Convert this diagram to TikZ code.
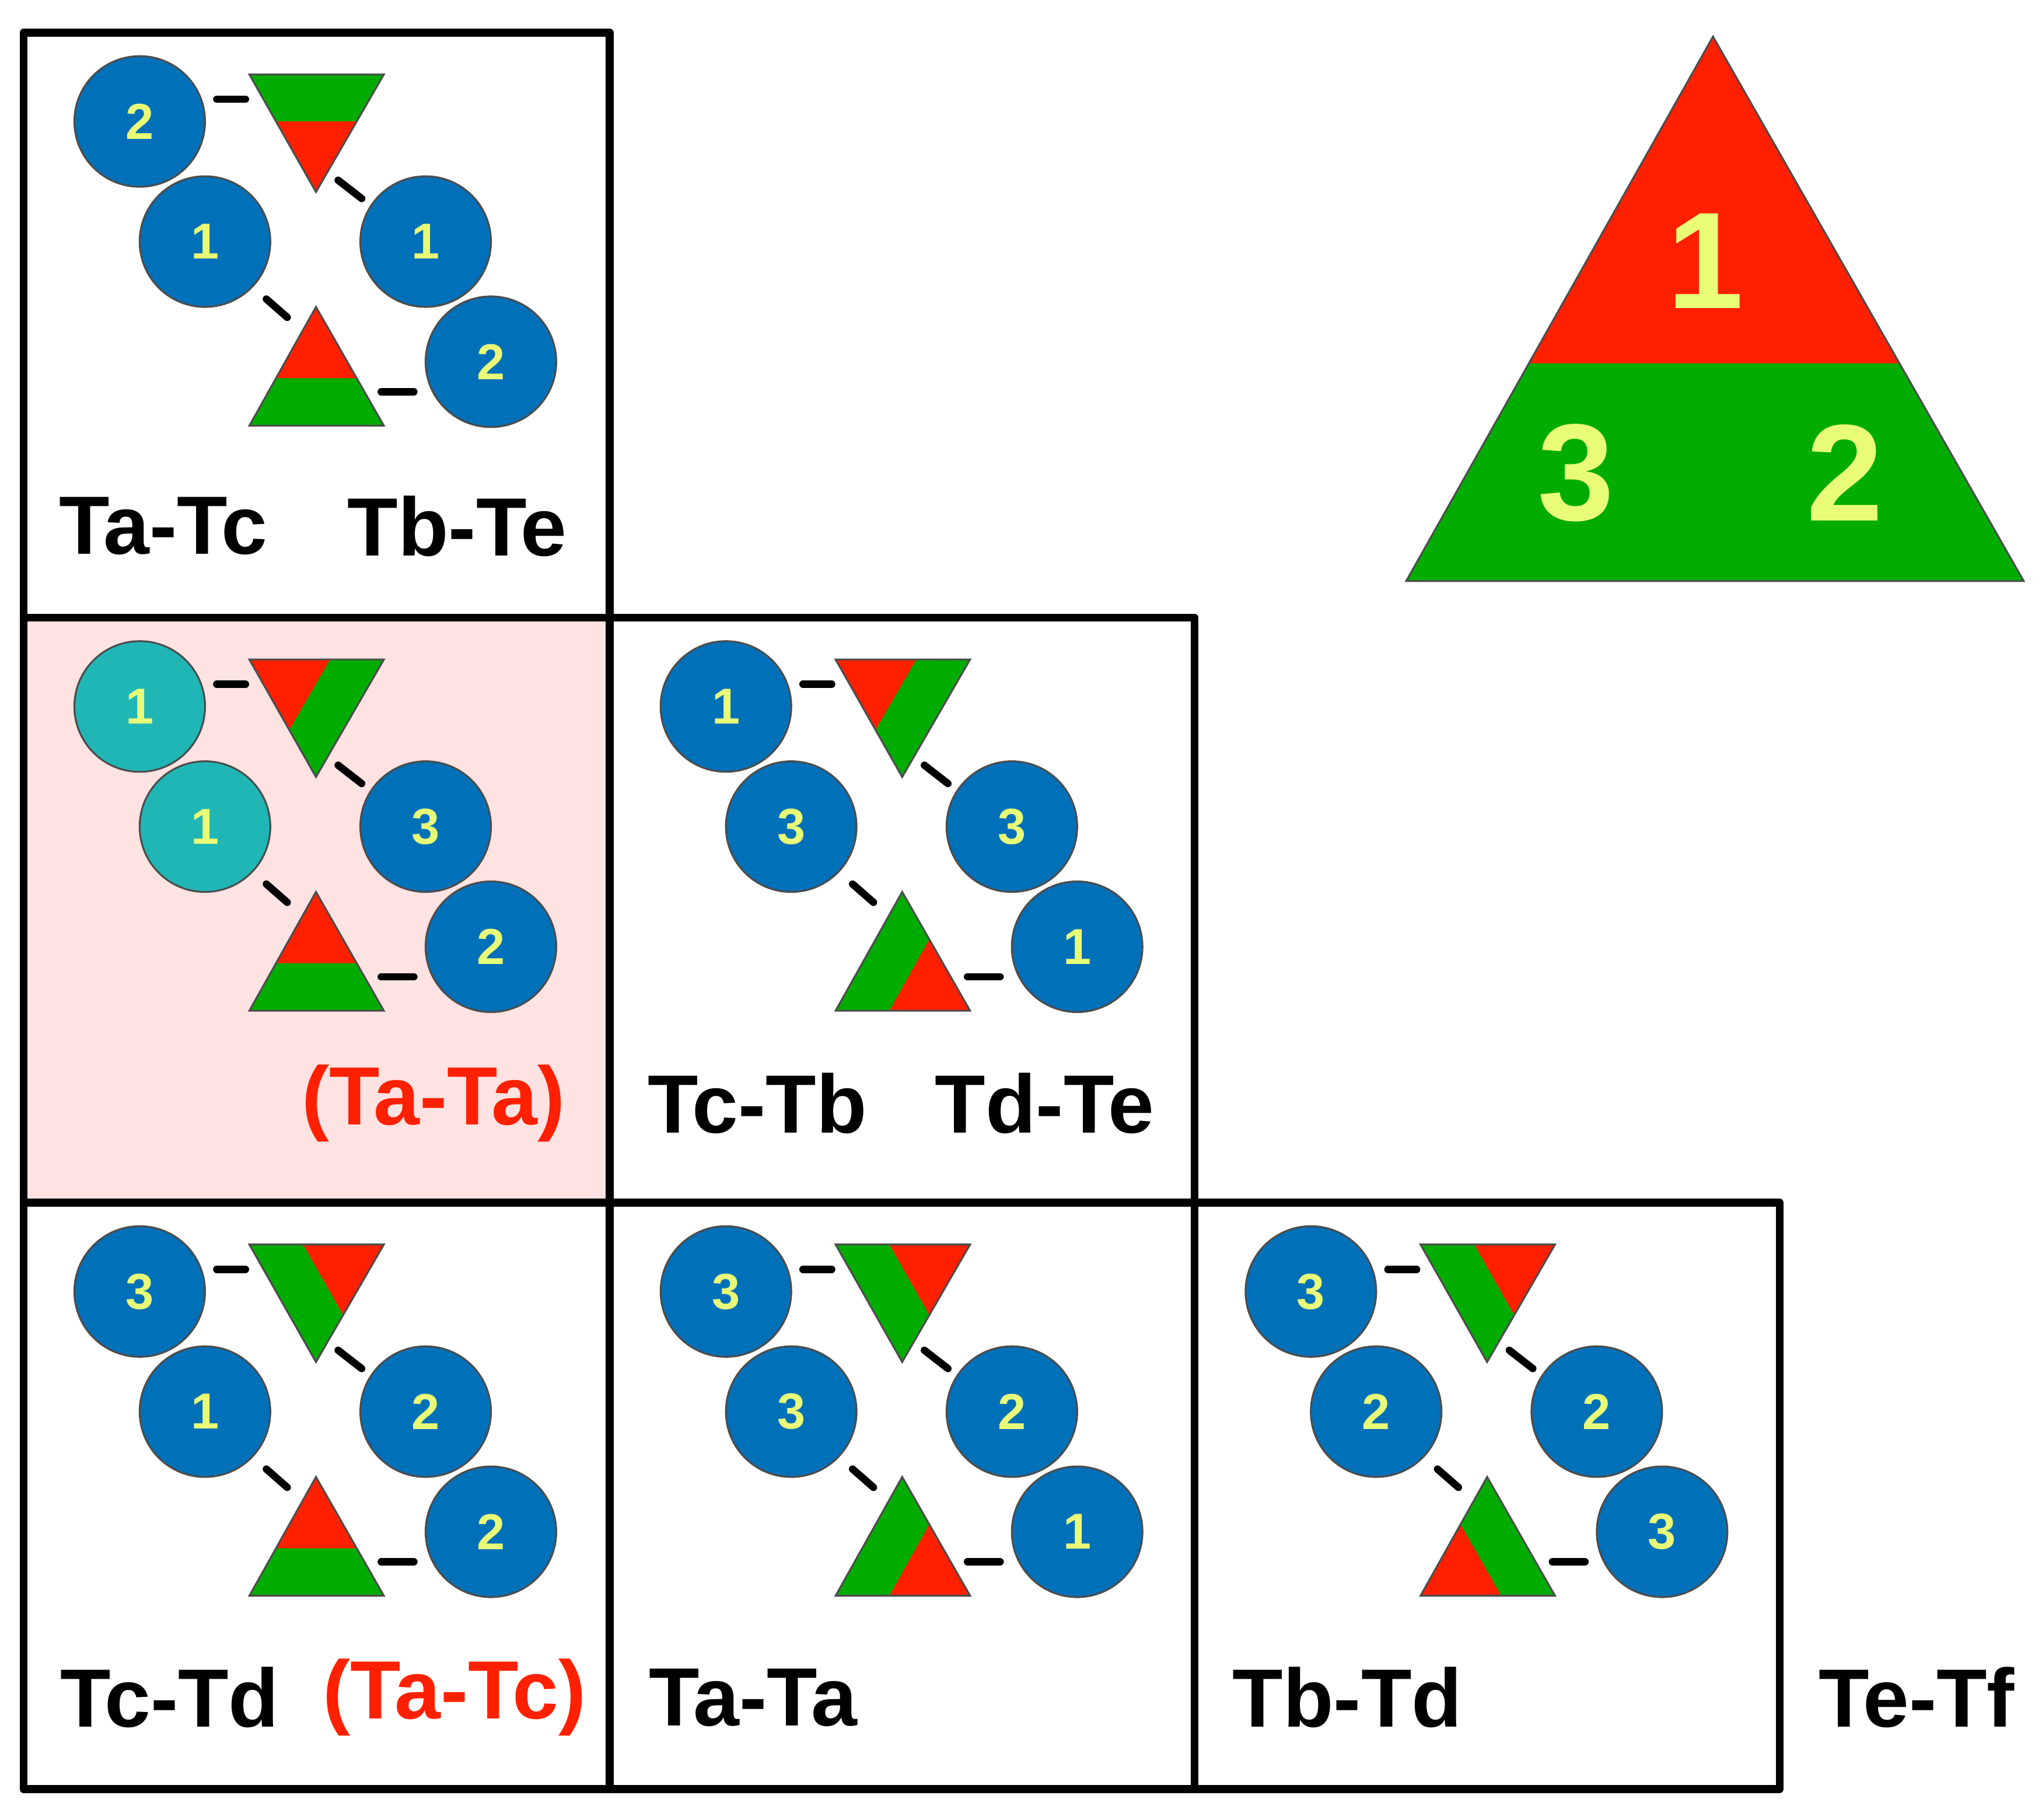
\documentclass[tikz,border=0pt]{standalone}
\usepackage{fontspec}
\setmainfont{Liberation Sans}
\usetikzlibrary{calc}

\definecolor{ballblue}{RGB}{0,112,184}
\definecolor{ballteal}{RGB}{32,182,182}
\definecolor{trired}{RGB}{255,32,0}
\definecolor{trigreen}{RGB}{0,172,0}
\definecolor{numyellow}{RGB}{232,252,120}
\definecolor{cellpink}{RGB}{255,226,226}

\tikzset{
  ball/.style={circle,draw=black!70,fill=ballblue,thin,inner sep=0pt,minimum size=1cm,
    text=numyellow,font=\bfseries\fontsize{11}{11}\selectfont},
  link/.style={line width=1.6pt,line cap=round},
  frame/.style={line width=1.7pt,line join=round},
  pair/.style={font=\bfseries\fontsize{18}{18}\selectfont},
  side/.style={draw=black!70,thin}
}

% red corner #1, whole triangle #2 #3 #4
\newcommand{\trifill}[4]{
  \fill[trigreen] (#2) -- (#3) -- (#4) -- cycle;
  \fill[trired] ($(#1)!0.6!(#2)$) -- ($(#1)!0.6!(#3)$) -- ($(#1)!0.6!(#4)$) -- cycle;
  \draw[side] (#2) -- (#3) -- (#4) -- cycle;
}

\def\leftfill{ballblue}
% cell at (#1,#2) px, name #3, numbers #4-#7, red corners #8 (down) #9 (up)
\newcommand{\paircell}[9]{
  \begin{scope}[shift={(#1,#2)}]
    \node[ball,fill=\leftfill] (#3a) at (89,68) {#4};
    \node[ball,fill=\leftfill] (#3b) at (139,160) {#5};
    \node[ball] (#3c) at (308,160) {#6};
    \node[ball] (#3d) at (358,252) {#7};
    \coordinate (#3dl) at (173,32);
    \coordinate (#3dr) at (276,32);
    \coordinate (#3da) at (224,122);
    \coordinate (#3ua) at (224,210);
    \coordinate (#3ul) at (173,301);
    \coordinate (#3ur) at (276,301);
    \trifill{#3d#8}{#3dl}{#3dr}{#3da}
    \trifill{#3u#9}{#3ua}{#3ul}{#3ur}
    \coordinate (#3p1) at (148,51);  \coordinate (#3q1) at (170,51);
    \coordinate (#3p2) at (241,113); \coordinate (#3q2) at (259,127);
    \coordinate (#3p3) at (186,204); \coordinate (#3q3) at (202,218);
    \coordinate (#3p4) at (274,275); \coordinate (#3q4) at (299,275);
    \foreach \k in {1,...,4} \draw[link] (#3p\k) -- (#3q\k);
  \end{scope}
}

\begin{document}
\begin{tikzpicture}[x=0.01cm,y=-0.01cm]
  \useasboundingbox (0,0) rectangle (1564,1393.7);
  % pink cell
  \fill[cellpink] (18,473) rectangle (467,921);

  \paircell{18}{25}{ac}{2}{1}{1}{2}{a}{a}
  \def\leftfill{ballteal}
  \paircell{18}{473}{aa}{1}{1}{3}{2}{l}{a}
  \def\leftfill{ballblue}
  \paircell{467}{473}{cb}{1}{3}{3}{1}{l}{r}
  \paircell{18}{921}{cd}{3}{1}{2}{2}{r}{a}
  \paircell{467}{921}{ta}{3}{3}{2}{1}{r}{r}
  \paircell{915}{921}{bd}{3}{2}{2}{3}{r}{l}

  % frames
  \draw[frame] (18,25) rectangle (467,473);
  \draw[frame] (18,473) rectangle (467,921);
  \draw[frame] (467,473) rectangle (915,921);
  \draw[frame] (18,921) rectangle (467,1370);
  \draw[frame] (467,921) rectangle (915,1370);
  \draw[frame] (915,921) rectangle (1363,1370);

  % pair labels
  \node[pair] (l1) at (125,403) {Ta-Tc};
  \node[pair] (l2) at (350,403) {Tb-Te};
  \node[pair,text=trired] (l3) at (332,845) {(Ta-Ta)};
  \node[pair] (l4) at (580,845) {Tc-Tb};
  \node[pair] (l5) at (800,845) {Td-Te};
  \node[pair] (l6) at (130,1300) {Tc-Td};
  \node[pair,text=trired] (l7) at (348,1300) {(Ta-Tc)};
  \node[pair] (l8) at (577,1300) {Ta-Ta};
  \node[pair] (l9) at (1032,1300) {Tb-Td};
  \node[pair] (l10) at (1468,1300) {Te-Tf};

  % key triangle
  \coordinate (k1) at (1312,28);
  \coordinate (k3) at (1077,445);
  \coordinate (k2) at (1550,445);
  \trifill{k1}{k1}{k3}{k2}
  \node[text=numyellow,font=\bfseries\fontsize{30}{30}\selectfont] (n1) at (1306,200) {1};
  \node[text=numyellow,font=\bfseries\fontsize{30}{30}\selectfont] (n3) at (1207,362) {3};
  \node[text=numyellow,font=\bfseries\fontsize{30}{30}\selectfont] (n2) at (1413,362) {2};
\end{tikzpicture}
\end{document}
